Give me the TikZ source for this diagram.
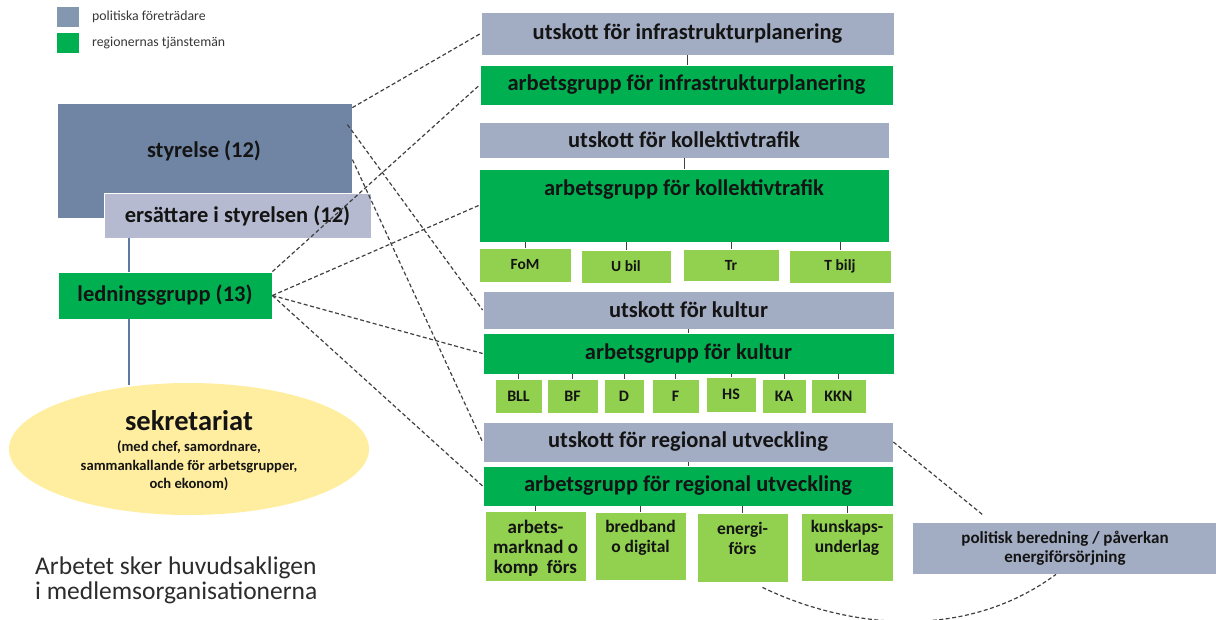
\documentclass[tikz,border=0pt]{standalone}
\usepackage{fontspec}
\setmainfont{Carlito}
\usetikzlibrary{shapes.geometric,calc}
\definecolor{styrc}{RGB}{112,132,164}
\definecolor{utc}{RGB}{162,172,194}
\definecolor{ersc}{RGB}{182,186,208}
\definecolor{legc}{RGB}{132,151,176}
\definecolor{grn}{RGB}{0,176,80}
\definecolor{lgrn}{RGB}{146,208,80}
\definecolor{yel}{RGB}{255,238,160}
\definecolor{vln}{RGB}{95,120,165}
\definecolor{txt}{RGB}{20,20,20}
\tikzset{
  box/.style={rectangle, draw=white, line width=0.8pt, inner sep=0pt, text=txt, font=\bfseries\fontsize{22.5}{25}\selectfont},
  pol/.style={box, fill=utc},
  grp/.style={box, fill=grn},
  sub/.style={box, fill=lgrn, font=\bfseries\fontsize{16}{18}\selectfont},
  rtxt/.style={text=txt, align=center, inner sep=0pt, font=\bfseries\fontsize{17.5}{20}\selectfont},
  tick/.style={draw=black!75, line width=0.8pt},
  dsh/.style={draw=black!75, line width=1.2pt, dash pattern=on 4pt off 2.5pt},
  vline/.style={draw=vln, line width=1.1pt},
}
\begin{document}
\begin{tikzpicture}[x=1pt,y=-1pt]
\useasboundingbox (0,0) rectangle (1216,619);
% legend
\node[fill=legc, minimum width=22pt, minimum height=20pt, inner sep=0pt] (leg1) at (68,17) {};
\node[fill=grn, minimum width=22pt, minimum height=20pt, inner sep=0pt] (leg2) at (68,43) {};
\node[anchor=west, inner sep=0pt, text=txt!85, font=\fontsize{13.8}{15}\selectfont] (legt1) at (92,17) {politiska företrädare};
\node[anchor=west, inner sep=0pt, text=txt!85, font=\fontsize{13.8}{15}\selectfont] (legt2) at (92,43) {regionernas tjänstemän};

% left column
\node[box, fill=styrc, minimum width=295pt, minimum height=115pt] (styr) at (204.5,160.5) {};
\node[font=\bfseries\fontsize{22.5}{25}\selectfont, text=txt, inner sep=0pt] (styrT) at (204,151) {styrelse (12)};
\node[box, fill=ersc, minimum width=267pt, minimum height=45pt] (ers) at (237.5,215.5) {ersättare i styrelsen (12)};
\node[grp, minimum width=214pt, minimum height=47pt] (led) at (165,295.5) {ledningsgrupp (13)};
\draw[vline] ([xshift=-36pt]led.north) -- ([xshift=-36pt]led.north |- ers.south);
\draw[vline] ([xshift=-36pt]led.south) -- ++(0,66);
\node[ellipse, fill=yel, minimum width=360pt, minimum height=132pt, inner sep=0pt] (sek) at (189,449) {};
\node[text=txt, inner sep=0pt, font=\bfseries\fontsize{28.5}{30}\selectfont] (sekT) at (189,421) {sekretariat};
\node[text=txt, inner sep=0pt, align=center, font=\bfseries\fontsize{14.6}{18.5}\selectfont] (sekS) at (189,466) {(med chef, samordnare,\\sammankallande för arbetsgrupper,\\och ekonom)};
\node[anchor=west, align=left, inner sep=0pt, text=txt!90, font=\fontsize{25.5}{25}\selectfont] (arb) at (35,580) {Arbetet sker huvudsakligen\\i medlemsorganisationerna};

% infrastruktur
\node[pol, minimum width=413pt, minimum height=43pt] (uI) at (687.5,33.5) {utskott för infrastrukturplanering};
\node[grp, minimum width=413pt, minimum height=40pt] (aI) at (686.5,85) {arbetsgrupp för infrastrukturplanering};
\draw[tick] (uI.south) -- (uI.south |- aI.north);

% kollektivtrafik
\node[pol, minimum width=410pt, minimum height=36pt] (uK) at (684,140) {utskott för kollektivtrafik};
\node[grp, minimum width=410pt, minimum height=73pt] (aK) at (684,205.5) {};
\node[font=\bfseries\fontsize{22.5}{25}\selectfont, text=txt, inner sep=0pt] (aKT) at (684,189) {arbetsgrupp för kollektivtrafik};
\draw[tick] (uK.south) -- (uK.south |- aK.north);
\node[sub, minimum width=92pt, minimum height=34pt, font=\bfseries\fontsize{15.5}{18}\selectfont] (k1) at (525,265) {FoM};
\node[sub, minimum width=90pt, minimum height=33pt, font=\bfseries\fontsize{15.5}{18}\selectfont] (k2) at (626,266.5) {U bil};
\node[sub, minimum width=96pt, minimum height=32pt, font=\bfseries\fontsize{15.5}{18}\selectfont] (k3) at (731,265) {Tr};
\node[sub, minimum width=102pt, minimum height=33pt, font=\bfseries\fontsize{15.5}{18}\selectfont] (k4) at (840,266.5) {T bilj};
\foreach \k in {k1,k2,k3,k4} \draw[tick] (\k.north) -- (\k.north |- aK.south);

% kultur
\node[pol, minimum width=411pt, minimum height=38pt] (uKu) at (688.5,310) {utskott för kultur};
\node[grp, minimum width=411pt, minimum height=41pt] (aKu) at (688.5,353.5) {arbetsgrupp för kultur};
\draw[tick] (uKu.south) -- (uKu.south |- aKu.north);
\node[sub, minimum width=47pt, minimum height=34pt] (c1) at (518.5,396) {BLL};
\node[sub, minimum width=51pt, minimum height=34pt] (c2) at (572.5,396) {BF};
\node[sub, minimum width=40pt, minimum height=34pt] (c3) at (624,396) {D};
\node[sub, minimum width=47pt, minimum height=34pt] (c4) at (675.5,396) {F};
\node[sub, minimum width=50pt, minimum height=35pt] (c5) at (731,394.5) {HS};
\node[sub, minimum width=44pt, minimum height=34pt] (c6) at (784,396) {KA};
\node[sub, minimum width=55pt, minimum height=34pt] (c7) at (838.5,396) {KKN};
\foreach \k in {c1,c2,c3,c4,c5,c6,c7} \draw[tick] (\k.north) -- (\k.north |- aKu.south);

% regional utveckling
\node[pol, minimum width=410pt, minimum height=40pt] (uR) at (688,442) {utskott för regional utveckling};
\node[grp, minimum width=410pt, minimum height=40pt] (aR) at (688,486) {arbetsgrupp för regional utveckling};
\draw[tick] (uR.south) -- (uR.south |- aR.north);
\node[sub, minimum width=101pt, minimum height=70pt] (r1) at (535.5,546) {};
\node[sub, minimum width=91pt, minimum height=68pt] (r2) at (640.5,546) {};
\node[sub, minimum width=91pt, minimum height=69pt] (r3) at (742.5,547.5) {};
\node[sub, minimum width=92pt, minimum height=68pt] (r4) at (847,547) {};
\node[rtxt, font=\bfseries\fontsize{19}{20}\selectfont] (r1T) at (535.5,548) {arbets-\\marknad o\\komp\ \ förs};
\node[rtxt] (r2T) at (640.5,538) {bredband\\o digital};
\node[rtxt] (r3T) at (742.5,538) {energi-\\förs};
\node[rtxt] (r4T) at (847,538) {kunskaps-\\underlag};
\foreach \k in {r1,r2,r3,r4} \draw[tick] (\k.north) -- (\k.north |- aR.south);

% politisk beredning
\node[pol, minimum width=306pt, minimum height=52pt, align=center, font=\bfseries\fontsize{17}{19}\selectfont] (pb) at (1065,548) {politisk beredning / påverkan\\energiförsörjning};
\coordinate (pe) at (983,515);

% dashed connectors
\draw[dsh] ([yshift=-5pt]styr.north east) -- (uI.west);
\draw[dsh] (led.north east) -- (aI.west);
\draw[dsh] ([xshift=-5pt,yshift=-22pt]styr.north east) -- (uKu.west);
\draw[dsh] ([yshift=-57pt]styr.north east) -- (uR.west);
\draw[dsh] (led.east) -- (aK.west);
\draw[dsh] (led.east) -- (aKu.west);
\draw[dsh] (led.east) -- (aR.west);
\draw[dsh] (uR.east) -- (pe);
\draw[dsh] ([xshift=20pt,yshift=-5pt]r3.south) .. controls (840,625) and (960,645) .. ([xshift=-9pt]pb.south);
\end{tikzpicture}
\end{document}
